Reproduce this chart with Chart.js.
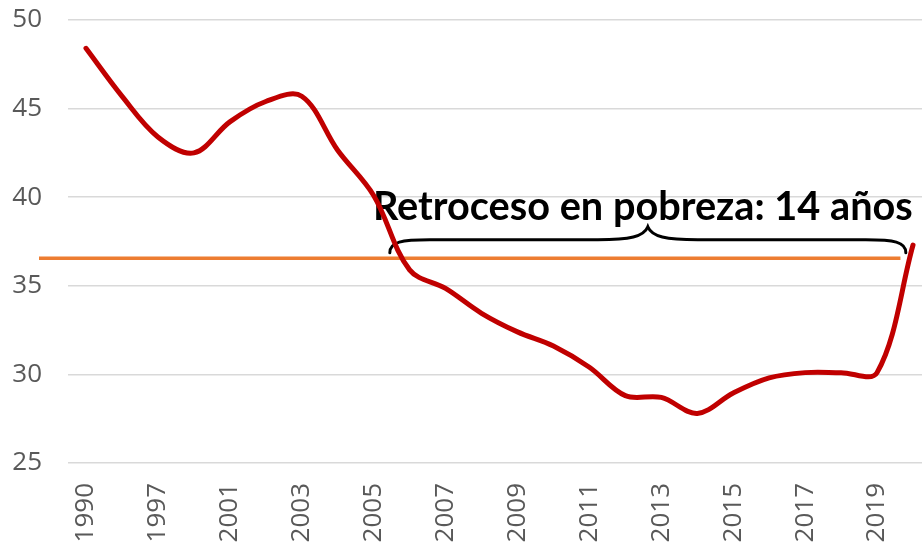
<!DOCTYPE html>
<html>
<head>
<meta charset="utf-8">
<script src="https://cdn.jsdelivr.net/npm/chart.js@4.4.1/dist/chart.umd.min.js"></script>
<style>
html,body{margin:0;padding:0;background:#fff;overflow:hidden;width:922px;height:546px}
#wrap{position:relative;width:931px;height:546px}
</style>
</head>
<body>
<div id="wrap"><canvas id="c"></canvas></div>
<script>
// ---- data ----
const years = ['1990','1994','1997','1999','2001','2002','2003','2004','2005','2006','2007','2008',
               '2009','2010','2011','2012','2013','2014','2015','2016','2017','2018','2019','2020'];
const poverty = [48.4,45.7,43.4,42.5,44.25,45.4,45.7,42.65,40.1,35.9,34.85,33.45,
                 32.4,31.6,30.4,28.8,28.7,27.8,28.95,29.8,30.1,30.1,30.1,37.3];
const yTickValues = [25,30,35,40,45,50];
const thresholdValue = 36.55;          // level reached again in 2020
const annotationText = 'Retroceso en pobreza: 14 años';

const tickFont = {family: "'Open Sans'", size: 26};
const tickColor = '#595959';

const overlayPlugin = {
  id: 'overlay',
  beforeDatasetsDraw(chart, args, opts) {
    const ctx = chart.ctx, xs = chart.scales.x, ys = chart.scales.y, area = chart.chartArea;
    ctx.save();
    // threshold line
    const yt = ys.getPixelForValue(thresholdValue);
    ctx.strokeStyle = '#ED7D31';
    ctx.lineWidth = 3.5;
    ctx.beginPath();
    ctx.moveTo(area.left - 29, yt);
    ctx.lineTo(xs.getPixelForValue(opts.lineEnd), yt);
    ctx.stroke();
    // brace
    const x0 = xs.getPixelForValue(opts.braceFrom), x1 = xs.getPixelForValue(opts.braceTo);
    const xm = (x0 + x1) / 2;
    const yH = ys.getPixelForValue(opts.braceLevel);
    const yEnd = yH + 13, yTip = yH - 13;
    ctx.strokeStyle = '#000';
    ctx.lineWidth = 3;
    ctx.lineCap = 'round';
    ctx.beginPath();
    ctx.moveTo(x0, yEnd);
    ctx.bezierCurveTo(x0, yH + 2, x0 + 12, yH, x0 + 40, yH);
    ctx.lineTo(xm - 50, yH);
    ctx.bezierCurveTo(xm - 18, yH, xm - 4, yH - 3, xm, yTip);
    ctx.bezierCurveTo(xm + 4, yH - 3, xm + 18, yH, xm + 50, yH);
    ctx.lineTo(x1 - 40, yH);
    ctx.bezierCurveTo(x1 - 12, yH, x1, yH + 2, x1, yEnd);
    ctx.stroke();
    // text
    ctx.font = "bold 36px Lato";
    const w = ctx.measureText(annotationText).width;
    const size = 36 * opts.textWidth / w;
    ctx.font = `bold ${size.toFixed(2)}px Lato`;
    ctx.fillStyle = '#000';
    ctx.textAlign = 'center';
    ctx.textBaseline = 'alphabetic';
    ctx.fillText(annotationText, xm - 5, yTip - 7);
    ctx.restore();
  }
};

new Chart(document.getElementById('c'), {
  type: 'line',
  data: {
    labels: years,
    datasets: [{
      data: poverty,
      borderColor: '#C00000',
      borderWidth: 5,
      borderCapStyle: 'round',
      borderJoinStyle: 'round',
      pointRadius: 0,
      tension: 0.35,
      fill: false
    }]
  },
  options: {
    responsive: true,
    maintainAspectRatio: false,
    animation: false,
    layout: {padding: 0},
    plugins: {
      legend: {display: false},
      tooltip: {enabled: false},
      overlay: {lineEnd: 22.65, braceFrom: 8.45, braceTo: 22.8, braceLevel: 37.6, textWidth: 540}
    },
    scales: {
      x: {
        type: 'category',
        offset: true,
        grid: {display: false, drawTicks: false},
        border: {display: false},
        ticks: {
          autoSkip: false,
          minRotation: 90,
          maxRotation: 90,
          padding: 20,
          font: tickFont,
          color: tickColor,
          callback: (v, i) => (i % 2 === 0 ? years[i] : '')
        },
        afterFit: s => { s.height = 83; s.paddingLeft = 0; s.paddingRight = 0; }
      },
      y: {
        min: 25,
        max: 50,
        afterBuildTicks: s => { s.ticks = yTickValues.map(v => ({value: v})); },
        grid: {color: '#D9D9D9', lineWidth: 1.5, drawTicks: false},
        border: {display: false},
        ticks: {padding: 26, font: tickFont, color: tickColor},
        afterFit: s => { s.width = 68; s.paddingTop = 20; s.paddingBottom = 0; }
      }
    }
  },
  plugins: [overlayPlugin]
});
</script>
</body>
</html>
